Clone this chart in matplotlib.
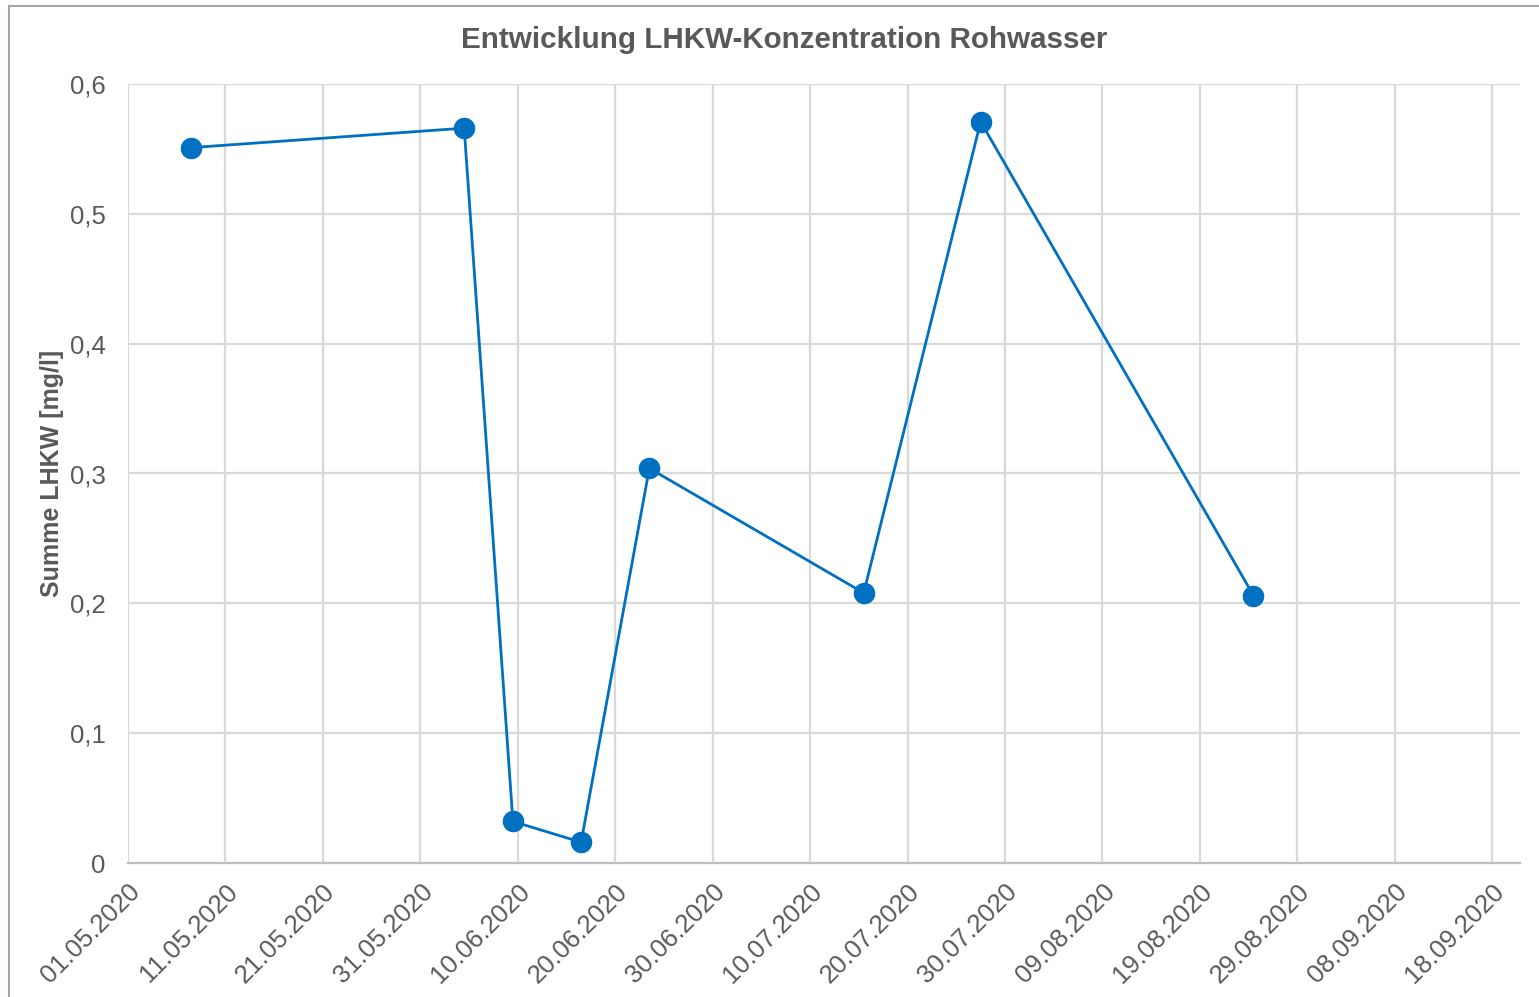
import matplotlib
matplotlib.use("Agg")
import matplotlib.pyplot as plt
import matplotlib.dates as mdates
from matplotlib.ticker import FixedLocator, FuncFormatter
from matplotlib.lines import Line2D
import pandas as pd

plt.rcParams['font.family'] = ['Liberation Sans', 'DejaVu Sans']

dates = ["2020-05-07 12:00", "2020-06-04 12:00", "2020-06-09 12:00", "2020-06-16 12:00",
         "2020-06-23 12:00", "2020-07-15 12:00", "2020-07-27 12:00", "2020-08-24 12:00"]
values = [0.551, 0.566, 0.032, 0.016, 0.304, 0.208, 0.571, 0.206]

title = "Entwicklung LHKW-Konzentration Rohwasser"
ylabel = "Summe LHKW [mg/l]"
yticks = [0, 0.1, 0.2, 0.3, 0.4, 0.5, 0.6]
xtick_start = "2020-05-01"
xtick_count = 15
xtick_step_days = 10

x = pd.to_datetime(dates)

fig = plt.figure(figsize=(15.39, 9.97), dpi=100)
ax = fig.add_axes([128/1539, 1-863/997, (1520-128)/1539, (863-84)/997])

blue = "#0070C0"
grid_c = "#D9D9D9"
text_c = "#595959"

ax.plot(x, values, color=blue, lw=2.0, marker='o', markersize=14.5,
        markerfacecolor=blue, markeredgecolor=blue, zorder=3)

tick_dates = pd.date_range(xtick_start, periods=xtick_count, freq=f"{xtick_step_days}D")
ax.set_xlim(mdates.date2num(pd.Timestamp(xtick_start)),
            mdates.date2num(pd.Timestamp(xtick_start)) + 142.85)
ax.set_ylim(0, 0.6)
ax.xaxis.set_major_locator(FixedLocator(mdates.date2num(tick_dates)))
ax.xaxis.set_major_formatter(mdates.DateFormatter("%d.%m.%Y"))
ax.set_yticks(yticks)
ax.yaxis.set_major_formatter(FuncFormatter(lambda v, p: ("%g" % round(v, 1)).replace('.', ',')))

ax.tick_params(axis='both', length=0, labelsize=18.5, colors=text_c)
ax.tick_params(axis='x', pad=12)
ax.tick_params(axis='y', pad=16)

for lab in ax.get_xticklabels():
    lab.set_rotation(45)
    lab.set_ha('right')
    lab.set_va('top')
    lab.set_rotation_mode('anchor')

ax.grid(True, color=grid_c, lw=1.6)
ax.set_axisbelow(True)
for s in ['top', 'right', 'left']:
    ax.spines[s].set_visible(False)
ax.spines['bottom'].set_color("#BFBFBF")
ax.spines['bottom'].set_linewidth(1.6)

ax.set_ylabel(ylabel, fontsize=18, fontweight='bold', color=text_c, labelpad=4)
fig.text(0.5 * (462 + 1107) / 1539, 1 - 40/997, title, ha='center', va='center',
         fontsize=21.3, fontweight='bold', color=text_c)

# outer chart border
fig.add_artist(Line2D([9/1539, 9/1539], [0, 1 - 6/997], transform=fig.transFigure,
                      color="#A6A6A6", lw=1.5))
fig.add_artist(Line2D([9/1539, 1], [1 - 6/997, 1 - 6/997], transform=fig.transFigure,
                      color="#A6A6A6", lw=1.5))

fig.savefig("out.png", dpi=100)
